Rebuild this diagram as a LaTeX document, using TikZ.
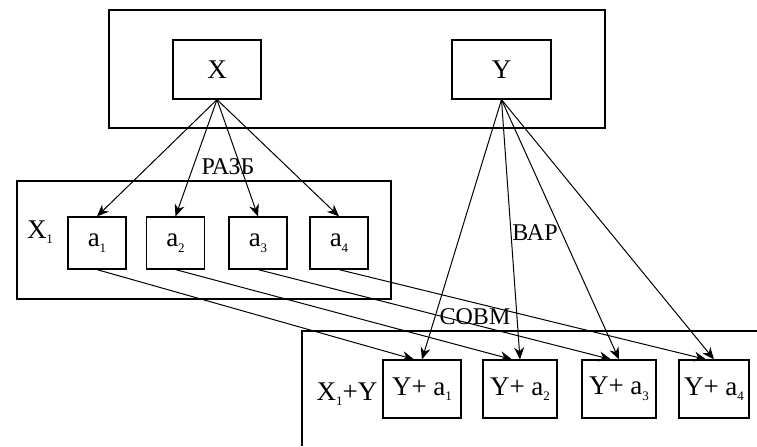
\documentclass[tikz,border=0pt]{standalone}
\usepackage{fontspec}
\setmainfont{Liberation Serif}
\usetikzlibrary{arrows.meta}
\tikzset{
  elem/.style={draw,line width=0.6pt,inner sep=0pt,font=\fontsize{13.5}{15}\selectfont},
  tag/.style={inner sep=1pt,font=\fontsize{12}{14}\selectfont},
  setlbl/.style={inner sep=0pt,font=\fontsize{13.5}{15}\selectfont},
  link/.style={-{Stealth[length=6pt,width=5pt]},line width=0.5pt}
}
\newcommand{\sub}[1]{\raisebox{-0.45ex}{\fontsize{6.5}{7}\selectfont #1}}
\begin{document}
\begin{tikzpicture}[x=0.5pt,y=-0.5pt]
\useasboundingbox (0,0) rectangle (757,446);

% Source sets
\draw[line width=0.6pt] (109,10) rectangle (605,128);
\node[elem,minimum width=44pt,minimum height=29.5pt] (X) at (217,69.5) {X};
\node[elem,minimum width=49.5pt,minimum height=29.5pt] (Y) at (501.5,69.5) {Y};

% Split of X
\draw[line width=0.6pt] (17,181) rectangle (391,299);
\node[setlbl] (xlbl) at (40,232) {X\sub{1}};
\foreach \i/\x in {1/97,2/175.5,3/258,4/339} {
    \node[elem,minimum width=29pt,minimum height=26pt] (a\i) at (\x,243) {a\sub{\i}};
}

% Combined set
\draw[line width=0.6pt] (302,446) -- (302,331) -- (757,331);
\node[setlbl] (xylbl) at (347,394) {X\sub{1}+Y};
\foreach \i/\x/\w in {1/422/39,2/520/37,3/619/37,4/714/35} {
    \node[elem,minimum width=\w pt,minimum height=29pt] (ya\i) at (\x,389) {Y+ a\sub{\i}};
}

% Connectors
\foreach \i in {1,...,4} {
    \draw[link] (X.south) -- (a\i.north);
    \draw[link] (Y.south) -- (ya\i.north);
    \draw[link] (a\i.south) -- ([xshift=-4pt]ya\i.north);
}

\node[tag] (razb) at (228,167) {РАЗБ};
\node[tag] (var) at (535,233) {ВАР};
\node[tag] (sovm) at (475,317) {СОВМ};
\end{tikzpicture}
\end{document}
